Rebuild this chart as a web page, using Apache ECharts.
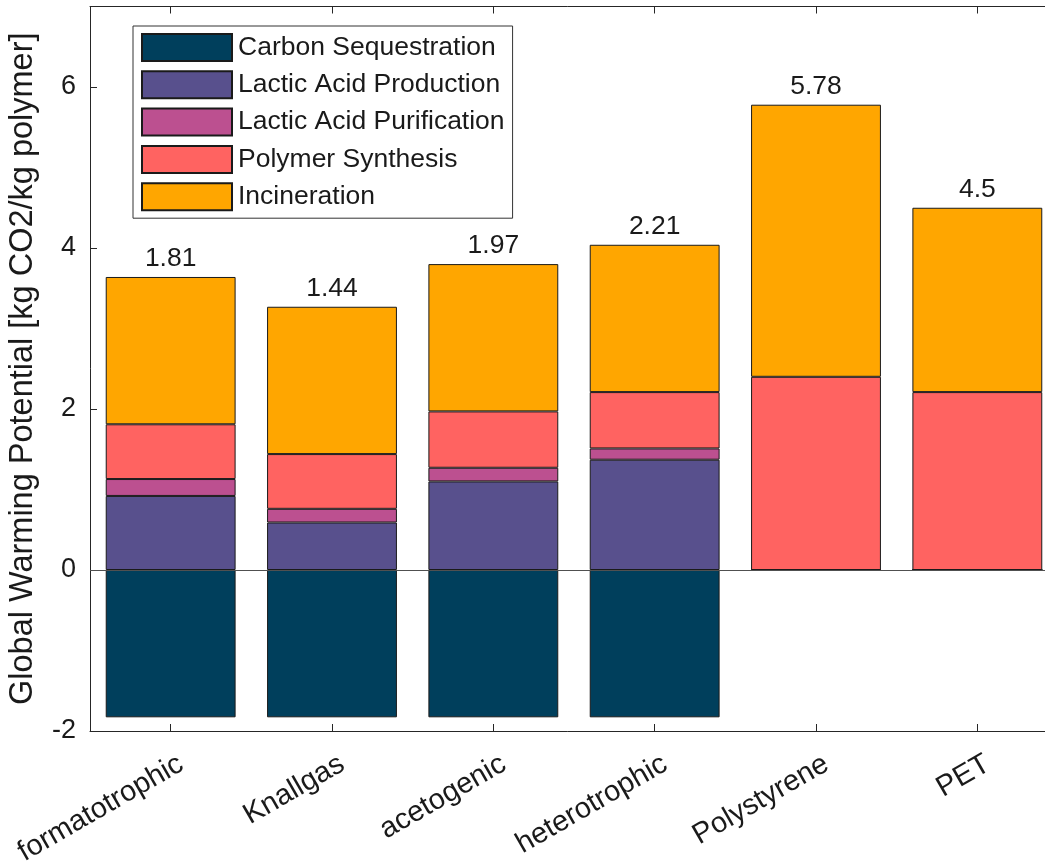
<!DOCTYPE html>
<html>
<head>
<meta charset="utf-8">
<script src="https://cdn.jsdelivr.net/npm/echarts@6/dist/echarts.min.js"></script>
<style>
html,body{margin:0;padding:0;background:#fff;}
#chart{width:1045px;height:865px;}
</style>
</head>
<body>
<div id="chart"></div>
<script>
var categories = ['formatotrophic', 'Knallgas', 'acetogenic', 'heterotrophic', 'Polystyrene', 'PET'];
var carbonSequestration = [-1.83, -1.83, -1.83, -1.83, 0, 0];
var lacticAcidProduction = [0.92, 0.59, 1.10, 1.37, 0, 0];
var lacticAcidPurification = [0.21, 0.17, 0.17, 0.14, 0, 0];
var polymerSynthesis = [0.68, 0.68, 0.70, 0.70, 2.40, 2.21];
var incineration = [1.83, 1.83, 1.83, 1.83, 3.38, 2.29];
var netLabels = ['1.81', '1.44', '1.97', '2.21', '5.78', '4.5'];
var yTicks = [-2, 0, 2, 4, 6];

var FONT = 'Liberation Sans, Arial, Helvetica, sans-serif';
var INK = '#262626';
var colors = ['#003f5c', '#58508d', '#bc5090', '#ff6361', '#ffa600'];
var names = ['Carbon Sequestration', 'Lactic Acid Production', 'Lactic Acid Purification', 'Polymer Synthesis', 'Incineration'];
var dataSets = [carbonSequestration, lacticAcidProduction, lacticAcidPurification, polymerSynthesis, incineration];

var series = dataSets.map(function (d, i) {
  var s = {
    name: names[i],
    type: 'bar',
    stack: 'gwp',
    barWidth: '80.5%',
    data: d,
    itemStyle: { color: colors[i], borderColor: '#1a1a1a', borderWidth: 1 },
    emphasis: { disabled: true }
  };
  if (i === 4) {
    s.label = {
      show: true,
      position: 'top',
      distance: 5,
      fontFamily: FONT,
      fontSize: 26.5,
      color: '#1a1a1a',
      formatter: function (p) { return netLabels[p.dataIndex]; }
    };
  }
  if (i === 0) {
    s.markLine = {
      silent: true,
      symbol: ['none', 'none'],
      label: { show: false },
      lineStyle: { color: '#505050', width: 1, type: 'solid' },
      data: [{ yAxis: 0 }]
    };
  }
  return s;
});

var chart = echarts.init(document.getElementById('chart'), null, { renderer: 'canvas' });
chart.setOption({
  animation: false,
  backgroundColor: '#ffffff',
  grid: { left: 90, top: 6.5, width: 968, height: 724.5, containLabel: false, outerBoundsMode: 'none' },
  legend: {
    orient: 'vertical',
    left: 133,
    top: 26,
    itemWidth: 90,
    itemHeight: 27,
    itemGap: 8.3,
    padding: [7, 8, 7, 8],
    backgroundColor: '#ffffff',
    borderColor: '#333333',
    borderWidth: 1,
    borderRadius: 0,
    icon: 'rect',
    selectedMode: false,
    textStyle: { fontFamily: FONT, fontSize: 26.5, color: '#1a1a1a', padding: [0, 0, 0, 1] },
    data: names
  },
  xAxis: [{
    type: 'category',
    data: categories,
    position: 'bottom',
    axisLine: { show: true, onZero: false, lineStyle: { color: INK, width: 1 } },
    axisTick: { show: true, inside: true, length: 7, alignWithLabel: true, lineStyle: { color: INK } },
    axisLabel: { rotate: 30, margin: 37, fontFamily: FONT, fontSize: 29, color: '#1a1a1a', padding: [0, -12, 0, 0] },
    splitLine: { show: false }
  }, {
    type: 'category',
    data: categories,
    position: 'top',
    axisLine: { show: true, onZero: false, lineStyle: { color: INK, width: 1 } },
    axisTick: { show: true, inside: true, length: 7, alignWithLabel: true, lineStyle: { color: INK } },
    axisLabel: { show: false },
    splitLine: { show: false }
  }],
  yAxis: {
    type: 'value',
    min: yTicks[0],
    max: 7,
    interval: 2,
    name: 'Global Warming Potential [kg CO2/kg polymer]',
    nameLocation: 'middle',
    nameRotate: 90,
    nameGap: 50,
    nameTextStyle: { fontFamily: FONT, fontSize: 32.5, color: '#1a1a1a' },
    axisLine: { show: true, lineStyle: { color: INK, width: 1 } },
    axisTick: { show: true, inside: true, length: 7, lineStyle: { color: INK } },
    axisLabel: {
      margin: 14,
      fontFamily: FONT,
      fontSize: 27,
      color: '#1a1a1a',
      formatter: function (v) { return yTicks.indexOf(v) >= 0 ? String(v) : ''; }
    },
    splitLine: { show: false }
  },
  series: series
});
</script>
</body>
</html>
